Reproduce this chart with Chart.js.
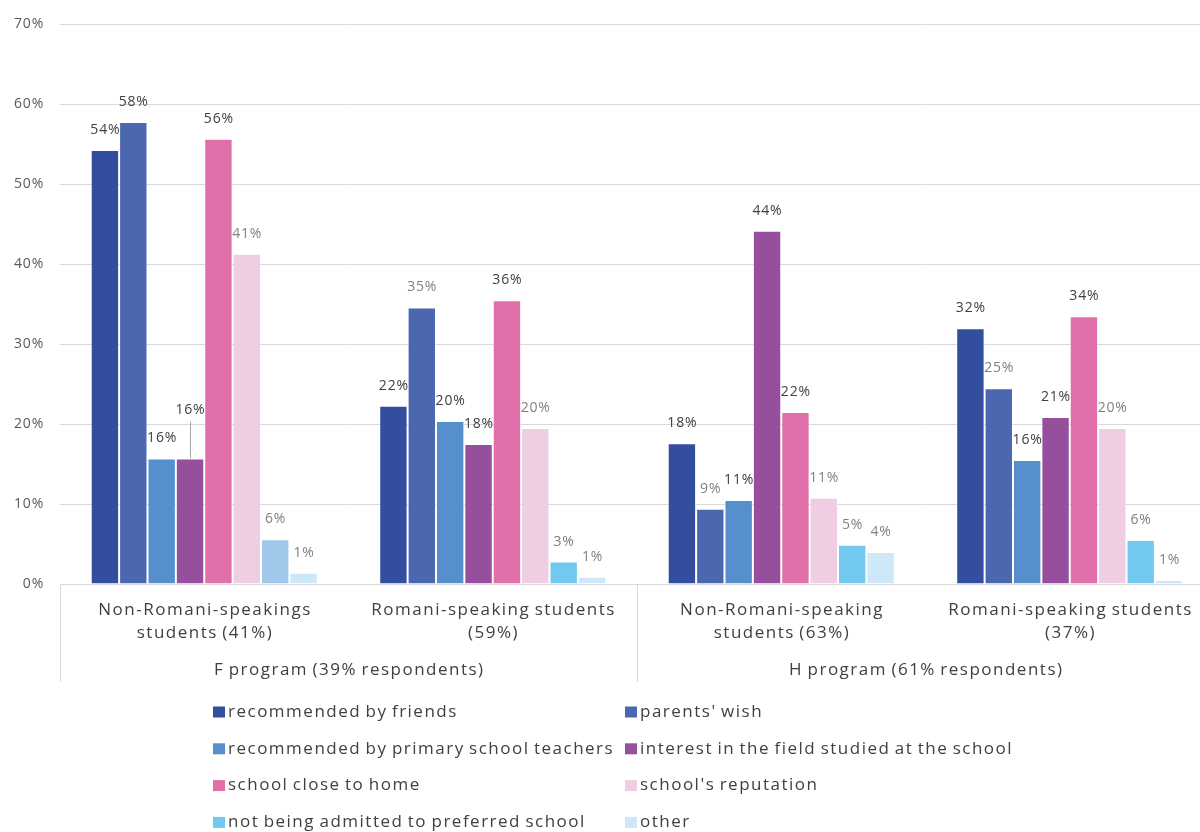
<!DOCTYPE html>
<html>
<head>
<meta charset="utf-8">
<script src="https://cdn.jsdelivr.net/npm/chart.js@4"></script>
<style>
  html, body { margin: 0; padding: 0; background: #fff; overflow: hidden; }
  #wrap { position: relative; width: 1214px; height: 832px; }
</style>
</head>
<body>
<div id="wrap"><canvas id="c"></canvas></div>
<script>
// ---- data ----
const categories = [
  ["Non-Romani-speakings", "students (41%)"],
  ["Romani-speaking students", "(59%)"],
  ["Non-Romani-speaking", "students (63%)"],
  ["Romani-speaking students", "(37%)"]
];
const programs = ["F program (39% respondents)", "H program (61% respondents)"];
const yTicks = [0, 10, 20, 30, 40, 50, 60, 70];

const seriesNames = [
  "recommended by friends",
  "parents' wish",
  "recommended by primary school teachers",
  "interest in the field studied at the school",
  "school close to home",
  "school's reputation",
  "not being admitted to preferred school",
  "other"
];
const recommendedByFriends  = [54.3, 22.3, 17.6, 32.0];
const parentsWish           = [57.8, 34.6, 9.4, 24.5];
const recommendedByTeachers = [15.7, 20.4, 10.5, 15.5];
const interestInField       = [15.7, 17.5, 44.2, 20.9];
const schoolCloseToHome     = [55.7, 35.5, 21.5, 33.5];
const schoolsReputation     = [41.3, 19.5, 10.8, 19.5];
const notAdmitted           = [5.6, 2.8, 4.9, 5.5];
const other                 = [1.4, 0.9, 4.0, 0.5];
const seriesValues = [recommendedByFriends, parentsWish, recommendedByTeachers, interestInField,
                      schoolCloseToHome, schoolsReputation, notAdmitted, other];

// ---- styles ----
const seriesColors = ["#344e9f", "#4a67b0", "#558fcc", "#964f9d", "#e16fa9", "#efcde2", "#73c8ef", "#cde9f9"];
const barColors = seriesColors.map((c, i) => i === 6 ? ["#9fc8ea", c, c, c] : c);
// 1 = dark label, 0 = grey label
const labelTone = [
  [1,1,1,1],[1,0,0,0],[1,1,1,1],[1,1,1,1],[1,1,1,1],[0,0,0,0],[0,0,0,0],[0,0,0,0]
];
const FONT = "'Open Sans', sans-serif";
const WIDE = "1.5px";    // letter spacing for big text
const WORD = "-1.5px";   // word spacing for big text
const NARROW = "0.8px";  // letter spacing for numbers

const datasets = seriesNames.map((name, i) => ({
  label: name,
  data: seriesValues[i],
  backgroundColor: barColors[i],
  borderColor: "rgba(255,255,255,0.45)",
  borderWidth: 1,
  categoryPercentage: 0.787,
  barPercentage: 1.0
}));

const spacing = {
  id: "spacing",
  beforeDraw(chart) { chart.ctx.letterSpacing = NARROW; }
};

const valueLabels = {
  id: "valueLabels",
  afterDatasetsDraw(chart) {
    const ctx = chart.ctx;
    ctx.save();
    ctx.letterSpacing = NARROW;
    ctx.font = "14px " + FONT;
    ctx.textAlign = "center";
    ctx.textBaseline = "middle";
    chart.data.datasets.forEach((ds, di) => {
      const meta = chart.getDatasetMeta(di);
      meta.data.forEach((bar, i) => {
        const v = ds.data[i];
        let y = bar.y - 20;
        // leader line for the overlapping label (F program, non-Romani, interest)
        if (di === 3 && i === 0) {
          y = bar.y - 48;
          ctx.strokeStyle = "#a6a6a6";
          ctx.lineWidth = 1;
          ctx.beginPath();
          ctx.moveTo(Math.round(bar.x) + 0.5, y + 11);
          ctx.lineTo(Math.round(bar.x) + 0.5, bar.y);
          ctx.stroke();
        }
        ctx.fillStyle = labelTone[di][i] ? "#404040" : "#808080";
        ctx.fillText(Math.round(v) + "%", bar.x + 0.4, y);
      });
    });
    ctx.restore();
  }
};

const groupAxis = {
  id: "groupAxis",
  afterDraw(chart) {
    const ctx = chart.ctx;
    const xs = chart.scales.x;
    const area = chart.chartArea;
    const half = (xs.getPixelForValue(1) - xs.getPixelForValue(0)) / 2;
    ctx.save();
    ctx.strokeStyle = "#d9d9d9";
    ctx.lineWidth = 1;
    const seps = [xs.getPixelForValue(0) - half, xs.getPixelForValue(2) - half, xs.getPixelForValue(3) + half];
    seps.forEach(x => {
      const px = Math.round(x) + 0.5;
      ctx.beginPath();
      ctx.moveTo(px, area.bottom);
      ctx.lineTo(px, 682);
      ctx.stroke();
    });
    ctx.letterSpacing = WIDE;
    ctx.wordSpacing = WORD;
    ctx.fillStyle = "#404040";
    ctx.font = "17px " + FONT;
    ctx.textAlign = "center";
    ctx.textBaseline = "middle";
    // category labels (two lines)
    categories.forEach((lines, i) => {
      const cx = xs.getPixelForValue(i) + 0.8;
      lines.forEach((t, k) => ctx.fillText(t, cx, area.bottom + 26.5 + k * 23));
    });
    // program labels
    programs.forEach((p, g) => {
      const cx = (xs.getPixelForValue(g * 2) + xs.getPixelForValue(g * 2 + 1)) / 2 + 0.8;
      ctx.fillText(p, cx, 670.5);
    });

    // legend (two columns)
    ctx.textAlign = "left";
    const colBox = [213, 625];
    chart.data.datasets.forEach((ds, i) => {
      const col = i % 2, row = Math.floor(i / 2);
      const cy = 712 + row * 36.8;
      ctx.fillStyle = seriesColors[i];
      ctx.fillRect(colBox[col], cy - 5.5, 12, 11);
      ctx.fillStyle = "#404040";
      ctx.fillText(ds.label, colBox[col] + 15, cy);
    });
    ctx.restore();
  }
};

new Chart(document.getElementById("c"), {
  type: "bar",
  data: { labels: categories, datasets },
  plugins: [spacing, valueLabels, groupAxis],
  options: {
    responsive: true,
    maintainAspectRatio: false,
    animation: false,
    layout: { padding: { top: 22, right: 0, left: 0, bottom: 0 } },
    plugins: { legend: { display: false }, tooltip: { enabled: false } },
    scales: {
      x: {
        grid: { display: false, drawTicks: false },
        border: { display: true, color: "#d9d9d9" },
        ticks: { display: false },
        afterFit(scale) { scale.height = 248; }
      },
      y: {
        min: 0, max: 70,
        afterBuildTicks(scale) { scale.ticks = yTicks.map(v => ({ value: v })); },
        grid: { color: "#d9d9d9", drawTicks: false },
        border: { display: false },
        ticks: { color: "#595959", font: { family: FONT, size: 14 }, padding: 16, callback: v => v + "%" },
        afterFit(scale) { scale.width = 60; }
      }
    }
  }
});
</script>
</body>
</html>
